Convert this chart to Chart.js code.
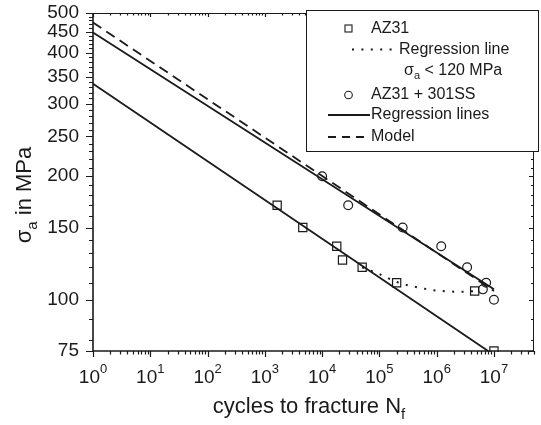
<!DOCTYPE html>
<html>
<head>
<meta charset="utf-8">
<script src="https://cdn.jsdelivr.net/npm/chart.js@4.4.1/dist/chart.umd.min.js"></script>
<style>
  html, body { margin: 0; padding: 0; background: #fff; }
  canvas { display: block; }
</style>
</head>
<body>
<canvas id="sn" width="541" height="425"></canvas>
<script>
// Stress amplitude (MPa) vs. cycles to fracture
const az31Cycles = [1640, 4600, 18000, 22700, 50000, 2.0e5, 4.6e6, 1.0e7];
const az31Stress = [170, 150, 135, 125, 120, 110, 105, 75];

const cladCycles = [1.0e4, 2.85e4, 2.55e5, 1.2e6, 3.4e6, 7.3e6, 6.4e6, 1.0e7];
const cladStress = [200, 170, 150, 135, 120, 110, 106, 100];

// regression fits and model, given by their end points
const az31FitCycles = [1, 7.9e6];
const az31FitStress = [336, 75];
const az31LowCycles = [5.0e4, 1.0e5, 2.0e5, 5.0e5, 1.0e6, 2.5e6, 4.6e6];
const az31LowStress = [120, 115.5, 110.5, 107, 105.3, 104.6, 105];
const cladFitCycles = [1, 1.0e7];
const cladFitStress = [448, 106];
const modelCycles = [1, 1.0e7];
const modelStress = [474, 105];

const yTickValues = [75, 100, 150, 200, 250, 300, 350, 400, 450, 500];
const xTickExponents = [0, 1, 2, 3, 4, 5, 6, 7];

const INK = '#1a1a1a';
const FAMILY = '"Liberation Sans", Arial, Helvetica, sans-serif';
const DOTS = [2, 7.4];
const DASHES = [10, 6];

function pts(xs, ys) {
  return xs.map((x, i) => ({ x: x, y: ys[i] }));
}

// writes a run of [text, isSubOrSup] pieces, returns end x
function richText(ctx, pieces, x, y, size, shift) {
  for (const [txt, small] of pieces) {
    const s = small ? Math.round(size * 0.68) : size;
    ctx.font = s + 'px ' + FAMILY;
    ctx.fillText(txt, x, small ? y + shift : y);
    x += ctx.measureText(txt).width;
  }
  return x;
}

function richWidth(ctx, pieces, size) {
  let w = 0;
  for (const [txt, small] of pieces) {
    ctx.font = (small ? Math.round(size * 0.68) : size) + 'px ' + FAMILY;
    w += ctx.measureText(txt).width;
  }
  return w;
}

const axesFrame = {
  id: 'axesFrame',
  afterDatasetsDraw(chart) {
    const { ctx, chartArea: a, scales: { x, y } } = chart;
    ctx.save();
    ctx.strokeStyle = INK;
    ctx.fillStyle = INK;

    // frame
    ctx.lineWidth = 1;
    ctx.beginPath();
    ctx.moveTo(a.left, a.top + 0.5); ctx.lineTo(a.right, a.top + 0.5);
    ctx.moveTo(a.right - 0.5, a.top); ctx.lineTo(a.right - 0.5, a.bottom);
    ctx.stroke();
    ctx.lineWidth = 1.6;
    ctx.beginPath();
    ctx.moveTo(a.left, a.top); ctx.lineTo(a.left, a.bottom);
    ctx.lineTo(a.right, a.bottom);
    ctx.stroke();

    // x ticks: decades plus 2..9 minors
    ctx.lineWidth = 1.2;
    ctx.beginPath();
    for (let k = 0; k <= 7; k++) {
      for (let m = 1; m <= 9; m++) {
        const v = m * Math.pow(10, k);
        if (v > x.max * 1.0001) continue;
        const px = Math.round(x.getPixelForValue(v)) + 0.5;
        const major = m === 1;
        ctx.moveTo(px, a.bottom); ctx.lineTo(px, a.bottom + (major ? 6 : 3.5));
        ctx.moveTo(px, a.top); ctx.lineTo(px, a.top + (major ? 4 : 2.5));
      }
    }
    // y ticks every 10 MPa
    const yMinor = [75];
    for (let v = 80; v <= 500; v += 10) yMinor.push(v);
    for (const v of yMinor) {
      const py = Math.round(y.getPixelForValue(v)) + 0.5;
      const major = yTickValues.includes(v);
      ctx.moveTo(a.left, py); ctx.lineTo(a.left - (major ? 7 : 4), py);
      ctx.moveTo(a.right, py); ctx.lineTo(a.right - (major ? 5 : 3), py);
    }
    ctx.stroke();

    // decade labels 10^k
    ctx.textBaseline = 'alphabetic';
    ctx.textAlign = 'left';
    for (const e of xTickExponents) {
      const pieces = [['10', false], [String(e), true]];
      const w = richWidth(ctx, pieces, 19);
      const px = x.getPixelForValue(Math.pow(10, e));
      richText(ctx, pieces, px - w / 2, 383, 19, -10);
    }

    // axis titles
    const xt = [['cycles to fracture N', false], ['f', true]];
    const xw = richWidth(ctx, xt, 22);
    richText(ctx, xt, 309 - xw / 2, 413, 22, 6);

    const yt = [['\u03c3', false], ['a', true], [' in MPa', false]];
    const yw = richWidth(ctx, yt, 22);
    ctx.translate(31, 195);
    ctx.rotate(-Math.PI / 2);
    richText(ctx, yt, -yw / 2, 0, 22, 6);
    ctx.restore();
  },
  afterDraw(chart) {
    const ctx = chart.ctx;
    ctx.save();
    const L = 306, T = 10, R = 539, B = 152;
    ctx.fillStyle = '#fff';
    ctx.fillRect(L, T, R - L, B - T);
    ctx.strokeStyle = INK;
    ctx.lineWidth = 1;
    ctx.strokeRect(L + 0.5, T + 0.5, R - L - 1, B - T - 1);

    ctx.fillStyle = INK;
    ctx.textBaseline = 'middle';
    ctx.textAlign = 'left';

    // square
    ctx.lineWidth = 1.1;
    ctx.strokeRect(345, 25, 7, 7);
    richText(ctx, [['AZ31', false]], 371, 29, 16, 0);

    // dotted
    ctx.lineWidth = 2;
    ctx.setLineDash(DOTS);
    ctx.beginPath(); ctx.moveTo(352, 49.5); ctx.lineTo(395, 49.5); ctx.stroke();
    ctx.setLineDash([]);
    richText(ctx, [['Regression line', false]], 399, 50, 16, 0);
    richText(ctx, [['\u03c3', false], ['a', true], [' < 120 MPa', false]], 404, 71, 16, 5);

    // circle
    ctx.lineWidth = 1.1;
    ctx.beginPath(); ctx.arc(348.5, 95, 3.8, 0, Math.PI * 2); ctx.stroke();
    richText(ctx, [['AZ31 + 301SS', false]], 371, 95, 16, 0);

    // solid
    ctx.lineWidth = 1.8;
    ctx.beginPath(); ctx.moveTo(328, 115); ctx.lineTo(370, 115); ctx.stroke();
    richText(ctx, [['Regression lines', false]], 371, 115, 16, 0);

    // dashed
    ctx.setLineDash([8, 6]);
    ctx.beginPath(); ctx.moveTo(328, 137); ctx.lineTo(370, 137); ctx.stroke();
    ctx.setLineDash([]);
    richText(ctx, [['Model', false]], 371, 137, 16, 0);
    ctx.restore();
  }
};

const lineBase = {
  showLine: true,
  pointRadius: 0,
  borderColor: INK,
  borderWidth: 1.8,
  fill: false,
  clip: 1
};

new Chart(document.getElementById('sn'), {
  type: 'scatter',
  data: {
    datasets: [
      Object.assign({}, lineBase, { label: 'AZ31 fit', data: pts(az31FitCycles, az31FitStress) }),
      Object.assign({}, lineBase, {
        label: 'AZ31 fit < 120 MPa', data: pts(az31LowCycles, az31LowStress),
        borderDash: DOTS, borderWidth: 2, cubicInterpolationMode: 'monotone'
      }),
      Object.assign({}, lineBase, { label: 'AZ31 + 301SS fit', data: pts(cladFitCycles, cladFitStress) }),
      Object.assign({}, lineBase, { label: 'Model', data: pts(modelCycles, modelStress), borderDash: DASHES }),
      {
        label: 'AZ31', data: pts(az31Cycles, az31Stress),
        pointStyle: 'rect', pointRadius: 5.8, borderWidth: 1.2,
        borderColor: INK, backgroundColor: 'rgba(0,0,0,0)', clip: 1
      },
      {
        label: 'AZ31 + 301SS', data: pts(cladCycles, cladStress),
        pointStyle: 'circle', pointRadius: 4.4, borderWidth: 1.2,
        borderColor: INK, backgroundColor: 'rgba(0,0,0,0)', clip: 1
      }
    ]
  },
  options: {
    responsive: false,
    animation: false,
    devicePixelRatio: 1,
    layout: { padding: { top: 13, right: 2, left: 0, bottom: 0 } },
    plugins: { legend: { display: false }, tooltip: { enabled: false } },
    scales: {
      x: {
        type: 'logarithmic', min: 1, max: 5e7,
        grid: { display: false, drawTicks: false },
        border: { display: false },
        ticks: { display: false },
        afterFit(scale) {
          scale.height = 74;
          scale.paddingLeft = 0;
          scale.paddingRight = 0;
        }
      },
      y: {
        type: 'logarithmic', min: 75, max: 500,
        grid: { display: false, drawTicks: false },
        border: { display: false },
        afterBuildTicks(scale) { scale.ticks = yTickValues.map(v => ({ value: v })); },
        ticks: {
          autoSkip: false, padding: 14, color: INK,
          font: { family: FAMILY, size: 19 },
          callback: v => String(v)
        },
        afterFit(scale) {
          scale.width = 93;
          scale.paddingTop = 0;
          scale.paddingBottom = 0;
        }
      }
    }
  },
  plugins: [axesFrame]
});
</script>
</body>
</html>
